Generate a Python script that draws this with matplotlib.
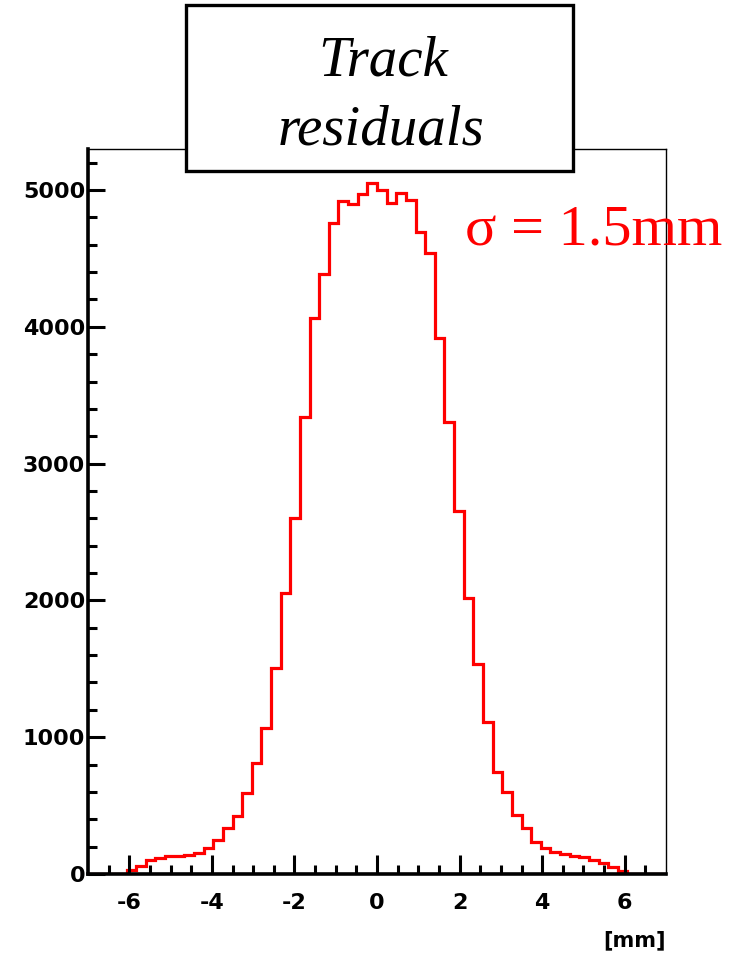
import numpy as np
import matplotlib
matplotlib.use("Agg")
import matplotlib.pyplot as plt
from matplotlib.patches import Rectangle

plt.rcParams["axes.unicode_minus"] = False

# histogram: 60 bins from -7 to 7 mm
x_lo, x_hi, n_bins = -7.0, 7.0, 60
counts = [0, 0, 0, 0, 30, 60, 100, 120, 130, 135,
          140, 150, 190, 245, 335, 425, 590, 809, 1065, 1508,
          2052, 2600, 3338, 4067, 4386, 4756, 4920, 4895, 4970, 5049,
          5000, 4903, 4976, 4927, 4695, 4537, 3916, 3306, 2656, 2015,
          1533, 1114, 748, 598, 428, 337, 236, 188, 163, 146,
          132, 122, 102, 78, 49, 24, 0, 0, 0, 0]
x_ticks = [-6, -4, -2, 0, 2, 4, 6]
y_ticks = [0, 1000, 2000, 3000, 4000, 5000]

W, H = 743, 956
fig = plt.figure(figsize=(W / 100, H / 100), dpi=100)
ax = fig.add_axes([88 / W, 1 - 874 / H, 578 / W, 725 / H])

edges = np.linspace(x_lo, x_hi, n_bins + 1)
ax.stairs(counts, edges, color="red", lw=2.3, zorder=1.5)

ax.set_xlim(x_lo, x_hi)
ax.set_ylim(0, 5300)
ax.set_xticks(x_ticks)
ax.set_xticks(np.arange(-6.5, 7, 0.5), minor=True)
ax.set_yticks(y_ticks)
ax.set_yticks(np.arange(0, 5300, 200), minor=True)

for s in ["left", "bottom"]:
    ax.spines[s].set_linewidth(2.6)
    ax.spines[s].set_zorder(3)
for s in ["top", "right"]:
    ax.spines[s].set_linewidth(1.0)

ax.tick_params(axis="x", which="major", direction="in", length=14, width=2.2, pad=14)
ax.tick_params(axis="x", which="minor", direction="in", length=6.5, width=2.2)
ax.tick_params(axis="y", which="major", direction="in", length=12, width=2.2, pad=2)
ax.tick_params(axis="y", which="minor", direction="in", length=6.5, width=2.2)
for lab in ax.get_xticklabels() + ax.get_yticklabels():
    lab.set_fontsize(16)
    lab.set_fontweight("bold")

fig.text(666 / W, 1 - 946 / H, "[mm]", ha="right", va="baseline",
         fontsize=15, fontweight="bold")

# title box
box = Rectangle((186 / W, 1 - 171 / H), 387 / W, 166 / H, transform=fig.transFigure,
                facecolor="white", edgecolor="black", lw=2.4, zorder=5)
fig.patches.append(box)
fig.text(383 / W, 1 - 75 / H, "Track", ha="center", va="baseline", fontsize=41,
         family="Liberation Serif", style="italic", zorder=6)
fig.text(381 / W, 1 - 145 / H, "residuals", ha="center", va="baseline", fontsize=41,
         family="Liberation Serif", style="italic", zorder=6)

fig.text(465 / W, 1 - 245 / H, "σ = 1.5mm", ha="left", va="baseline", fontsize=42,
         family="Liberation Serif", color="red", zorder=6)

fig.savefig("out.png", dpi=100)
